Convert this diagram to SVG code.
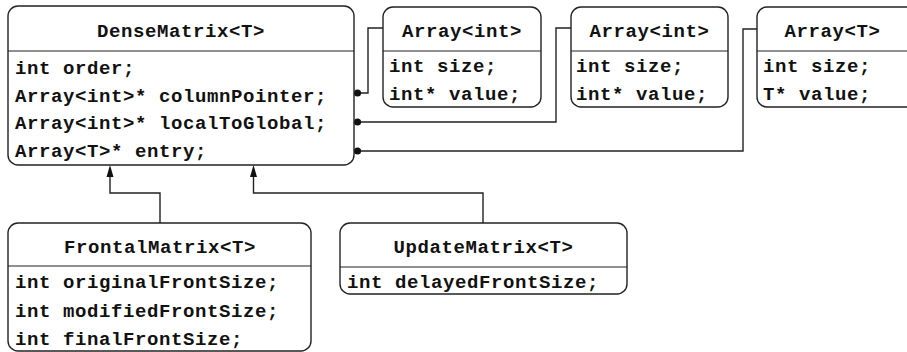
<svg xmlns="http://www.w3.org/2000/svg" width="907" height="352" viewBox="0 0 907 352">
<style>
.box{fill:#fff;stroke:#222;stroke-width:1.4}
.sep{stroke:#222;stroke-width:1.2}
.t{font-family:"Liberation Mono","Courier New",monospace;font-weight:bold;font-size:19px;letter-spacing:0.6px;fill:#111}
.c{text-anchor:middle}
.con{fill:none;stroke:#222;stroke-width:1.4}
.dot{fill:#111}
.ah{fill:#111}
</style>
<rect width="907" height="352" fill="#fff"/>
<g id="connectors">
<path class="con" d="M357,93 H368 V28 H383"/>
<path class="con" d="M357,122 H556 V28 H571"/>
<path class="con" d="M357,151 H743 V29 H757"/>
<circle class="dot" cx="357.5" cy="93" r="3.6"/>
<circle class="dot" cx="357.5" cy="122" r="3.6"/>
<circle class="dot" cx="357.5" cy="151" r="3.6"/>
<path class="con" d="M160,223 V193 H110 V174"/>
<polygon class="ah" points="110,165 106.5,177 113.5,177"/>
<path class="con" d="M483,223 V193 H253.5 V174"/>
<polygon class="ah" points="253.5,165 250,177 257,177"/>
</g>
<g id="DenseMatrix">
<rect class="box" x="8" y="6" width="346" height="159" rx="10"/>
<line class="sep" x1="8" y1="51" x2="354" y2="51"/>
<text class="t c" x="181" y="37">DenseMatrix&lt;T&gt;</text>
<text class="t" x="15" y="74">int order;</text>
<text class="t" x="15" y="102">Array&lt;int&gt;* columnPointer;</text>
<text class="t" x="15" y="129">Array&lt;int&gt;* localToGlobal;</text>
<text class="t" x="15" y="157">Array&lt;T&gt;* entry;</text>
</g>
<g id="ArrayInt1">
<rect class="box" x="383" y="7" width="158" height="100" rx="10"/>
<line class="sep" x1="383" y1="51" x2="541" y2="51"/>
<text class="t c" x="462" y="37">Array&lt;int&gt;</text>
<text class="t" x="389" y="72">int size;</text>
<text class="t" x="389" y="100">int* value;</text>
</g>
<g id="ArrayInt2">
<rect class="box" x="571" y="7" width="157" height="100" rx="10"/>
<line class="sep" x1="571" y1="51" x2="728" y2="51"/>
<text class="t c" x="649.5" y="37">Array&lt;int&gt;</text>
<text class="t" x="576" y="72">int size;</text>
<text class="t" x="576" y="100">int* value;</text>
</g>
<g id="ArrayT">
<rect class="box" x="757" y="7" width="170" height="100" rx="10"/>
<line class="sep" x1="757" y1="51" x2="907" y2="51"/>
<text class="t c" x="832.5" y="37">Array&lt;T&gt;</text>
<text class="t" x="763" y="72">int size;</text>
<text class="t" x="763" y="100">T* value;</text>
</g>
<g id="FrontalMatrix">
<rect class="box" x="8" y="223" width="303" height="128" rx="10"/>
<line class="sep" x1="8" y1="266" x2="311" y2="266"/>
<text class="t c" x="160" y="253">FrontalMatrix&lt;T&gt;</text>
<text class="t" x="15" y="288">int originalFrontSize;</text>
<text class="t" x="15" y="317">int modifiedFrontSize;</text>
<text class="t" x="15" y="345">int finalFrontSize;</text>
</g>
<g id="UpdateMatrix">
<rect class="box" x="340" y="223" width="287" height="71" rx="10"/>
<line class="sep" x1="340" y1="267" x2="627" y2="267"/>
<text class="t c" x="483.5" y="253">UpdateMatrix&lt;T&gt;</text>
<text class="t" x="347" y="288">int delayedFrontSize;</text>
</g>
</svg>
